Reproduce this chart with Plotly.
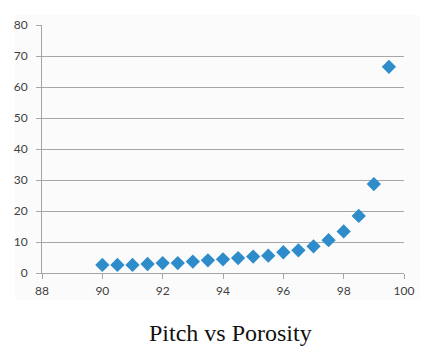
import plotly.graph_objects as go

pitch = [90, 90.5, 91, 91.5, 92, 92.5, 93, 93.5, 94, 94.5, 95, 95.5, 96, 96.5, 97, 97.5, 98, 98.5, 99, 99.5]
porosity = [2.6, 2.6, 2.6, 2.9, 3.2, 3.2, 3.7, 4.1, 4.4, 4.8, 5.3, 5.6, 6.7, 7.3, 8.6, 10.6, 13.4, 18.4, 28.7, 66.5]
title_text = "Pitch vs Porosity"

fig = go.Figure()
fig.add_trace(go.Scatter(
    x=pitch, y=porosity, mode="markers",
    marker=dict(symbol="diamond", size=11, color="#2f8ccb", line=dict(width=0)),
    showlegend=False,
))

W, H = 427, 349
fig.update_layout(
    width=W, height=H,
    margin=dict(l=42, r=23, t=25, b=76),
    paper_bgcolor="white",
    plot_bgcolor="#fbfbfb",
    font=dict(family="Lato, Open Sans, sans-serif", size=12, color="#3f3f3f"),
    shapes=[dict(type="rect", xref="paper", yref="paper",
                 x0=-27/362, x1=1 + 16/362, y0=-27/248, y1=1 + 10/248,
                 fillcolor="#fbfbfb", line=dict(width=0), layer="below")],
    annotations=[dict(text=title_text, xref="paper", yref="paper",
                      x=(230 - 42) / 362, y=-(333 - 273) / 248,
                      xanchor="center", yanchor="middle", showarrow=False,
                      font=dict(family="Liberation Serif, Times New Roman, serif", size=24, color="#111111"))],
)
fig.update_xaxes(range=[88, 100], dtick=2, tick0=88, showgrid=False, zeroline=False,
                 showline=True, linecolor="#a6a6a6", linewidth=1,
                 ticks="outside", ticklen=5, tickcolor="#a6a6a6", ticklabelstandoff=2)
fig.update_yaxes(range=[0, 80], dtick=10, tick0=0, showgrid=True, gridcolor="#a6a6a6", gridwidth=1,
                 zeroline=False, showline=True, linecolor="#a6a6a6", linewidth=1,
                 ticks="outside", ticklen=5, tickcolor="#a6a6a6", ticklabelstandoff=6)

fig.write_html("out.html")
